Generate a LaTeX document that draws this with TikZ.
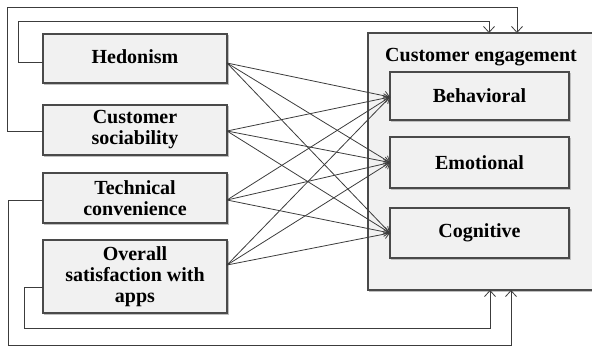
\documentclass[tikz,border=0pt]{standalone}
\usepackage{fontspec}
\setmainfont{Liberation Serif}[BoldFont={Liberation Serif Bold}]
\usetikzlibrary{arrows.meta,calc}
\definecolor{boxfill}{HTML}{F1F1F1}
\definecolor{boxline}{HTML}{4A4A4A}
\definecolor{conn}{HTML}{3C3C3C}
\begin{document}
\begin{tikzpicture}[x=1pt,y=-1pt,
  box/.style={draw=boxline,fill=boxfill,line width=1.1pt,inner sep=0pt,outer sep=0pt,
    align=center,font=\fontsize{20}{21}\selectfont\bfseries,
    preaction={draw=black!25,line width=1.1pt,transform canvas={shift={(1.2pt,-1.2pt)}}}},
  lbox/.style={box,minimum width=184pt},
  ibox/.style={box,minimum width=179pt},
  conn/.style={draw=conn,line width=0.8pt,-{Straight Barb[length=5pt,width=9pt]}},
  fb/.style={draw=conn,line width=0.8pt,-{Straight Barb[length=6pt,width=11pt]}}]
\useasboundingbox (0,0) rectangle (592,349);
% big box
\node[box,minimum width=232pt,minimum height=257pt,anchor=north west] (eng) at (368,33) {};
\node[font=\fontsize{20}{21}\selectfont\bfseries,inner sep=0pt] (engt) at (481,57) {Customer engagement};
% inner boxes
\node[ibox,minimum height=48pt] (beh) at (479.5,96) {Behavioral};
\node[ibox,minimum height=51pt] (emo) at (479.5,162.5) {Emotional};
\node[ibox,minimum height=50pt] (cog) at (479.5,233) {Cognitive};
% left boxes
\node[lbox,minimum height=49pt] (hed) at (135,58.5) {\raisebox{3pt}{Hedonism}};
\node[lbox,minimum height=50pt] (soc) at (135,130) {Customer\\sociability};
\node[lbox,minimum height=50pt] (tec) at (135,198) {Technical\\convenience};
\node[lbox,minimum height=73pt] (ove) at (135,276.5) {Overall\\satisfaction with\\apps};
% source points
\coordinate (sh) at ([yshift=-4.5pt]hed.east);
\coordinate (ss) at ([yshift=-1pt]soc.east);
\coordinate (st) at ([yshift=-2pt]tec.east);
\coordinate (so) at ([yshift=11.5pt]ove.east);
\coordinate (tb) at ([yshift=-1pt]beh.west);
\coordinate (te) at (emo.west);
\coordinate (tc) at (cog.west);
\foreach \s in {sh,ss,st,so}{
  \foreach \t in {tb,te,tc}{
    \draw[conn] (\s) -- (\t);
  }
}
% feedback lines
\coordinate (top1) at (489,33);
\coordinate (top2) at (517,33);
\coordinate (bot1) at (490,290);
\coordinate (bot2) at (511,290);
\draw[fb] ([yshift=-3.5pt]hed.west) -| (18,21) -| (top1);
\draw[fb] ([yshift=-1pt]soc.west) -| (7,7) -| (top2);
\draw[fb] ([yshift=-10.5pt]ove.west) -| (24,328) -| (bot1);
\draw[fb] ([yshift=-2pt]tec.west) -| (8,345) -| (bot2);
\end{tikzpicture}
\end{document}
